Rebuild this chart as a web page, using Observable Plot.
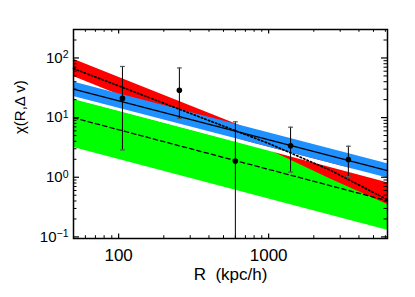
<!DOCTYPE html>
<html><head><meta charset="utf-8">
<script src="https://cdn.jsdelivr.net/npm/d3@7"></script>
<script src="https://cdn.jsdelivr.net/npm/@observablehq/plot@0.6"></script>
<style>body{margin:0;background:#fff;} svg{display:block}</style>
</head><body><div id="chart"></div>
<script>
// ---- data ----
const bandX = [50, 6200];
const greenLo = [3.16, 0.129];
const greenHi = [20.1, 0.853];
const dashedY = [9.93, 0.403];
const blueLo = [22.5, 0.97];
const blueHi = [39.4, 1.69];
const whiteLo = [20.5, 0.805];
const solidY = [30.1, 1.29];
const redX = [50, 120, 1000, 2600, 6200];
const redHi = [95.4, 39.7, 4.75, 1.90, 0.80];
const redLo = [48.7, 20.1, 2.9, 0.93, 0.35];
const dottedX = [50, 1000, 2600, 6200];
const dottedY = [66.3, 3.69, 1.30, 0.419];
const pointR = [106, 254, 600, 1400, 3400];
const pointChi = [21, 28.7, 1.87, 3.37, 1.99];
const errLo = [2.87, 9.7, 0.05, 1.22, 1.03];
const errHi = [72, 68, 8.5, 6.9, 3.31];
const xTickLabels = [100, 1000];
const yTickLabels = [0.1, 1, 10, 100];
const xTitle = "R  (kpc/h)";
const yTitle = "χ(R,Δ v)";

// ---- layout ----
const W = 415, H = 297, mL = 73, mR = 28, mT = 29, mB = 59;
const pw = W - mL - mR, ph = H - mT - mB;
const xDomain = [50, 6200], yDomain = [0.094, 300];

const band = (xs, lo, hi) => xs.map((x, i) => ({x, lo: lo[i], hi: hi[i]}));
const line = (xs, ys) => xs.map((x, i) => ({x, y: ys[i]}));
const green = band(bandX, greenLo, greenHi);
const blue = band(bandX, blueLo, blueHi);
const white = band(bandX, whiteLo, blueLo);
const red = band(redX, redLo, redHi);
const points = pointR.map((r, i) => ({r, chi: pointChi[i], lo: errLo[i], hi: errHi[i]}));

const inDom = (v, d) => v >= d[0] * 0.999 && v <= d[1] * 1.001;
const minor = (dom, majors) => {
  const out = [];
  for (let e = -2; e <= 4; e++) for (let m = 1; m <= 9; m++) {
    const v = +(m * Math.pow(10, e)).toPrecision(6);
    if (inDom(v, dom) && !majors.includes(v)) out.push(v);
  }
  return out;
};
const xMinor = minor(xDomain, xTickLabels);
const yMinor = minor(yDomain, yTickLabels);

const capSymbol = {draw(ctx) { ctx.moveTo(-2.4, 0); ctx.lineTo(2.4, 0); }};

const chart = Plot.plot({
  width: W, height: H,
  marginLeft: mL, marginRight: mR, marginTop: mT, marginBottom: mB,
  x: {type: "log", domain: xDomain},
  y: {type: "log", domain: yDomain},
  style: {fontFamily: "'Liberation Sans', Arial, sans-serif", background: "white", color: "black"},
  marks: [
    Plot.areaY(green, {x: "x", y1: "lo", y2: "hi", fill: "#00ff00"}),
    Plot.areaY(red, {x: "x", y1: "lo", y2: "hi", fill: "#ff0000"}),
    Plot.areaY(white, {x: "x", y1: "lo", y2: "hi", fill: "white"}),
    Plot.areaY(blue, {x: "x", y1: "lo", y2: "hi", fill: "#1e90ff"}),
    Plot.line(line(bandX, dashedY), {x: "x", y: "y", stroke: "black", strokeWidth: 1.3, strokeDasharray: "4.5,3"}),
    Plot.line(line(dottedX, dottedY), {x: "x", y: "y", stroke: "black", strokeWidth: 1.7, strokeDasharray: "1.5,2.3"}),
    Plot.line(line(bandX, solidY), {x: "x", y: "y", stroke: "black", strokeWidth: 1.4}),
    Plot.ruleX(points, {x: "r", y1: "lo", y2: "hi", stroke: "black", strokeWidth: 1, clip: true}),
    Plot.dot(points, {x: "r", y: "hi", symbol: capSymbol, fill: "none", stroke: "#555", strokeWidth: 1.2, clip: true}),
    Plot.dot(points, {x: "r", y: "lo", symbol: capSymbol, fill: "none", stroke: "#555", strokeWidth: 1.2, clip: true}),
    Plot.dot(points, {x: "r", y: "chi", r: 2.8, fill: "black"}),
    Plot.frame({stroke: "black", strokeWidth: 1.5}),
    // inward ticks
    Plot.tickY(yTickLabels, {y: d => d, insetRight: pw - 6, stroke: "black", strokeWidth: 1.2}),
    Plot.tickY(yTickLabels, {y: d => d, insetLeft: pw - 6, stroke: "black", strokeWidth: 1.2}),
    Plot.tickY(yMinor, {y: d => d, insetRight: pw - 3.5, stroke: "black", strokeWidth: 1}),
    Plot.tickY(yMinor, {y: d => d, insetLeft: pw - 3.5, stroke: "black", strokeWidth: 1}),
    Plot.tickX(xTickLabels, {x: d => d, insetTop: ph - 4.5, stroke: "black", strokeWidth: 1.2}),
    Plot.tickX(xTickLabels, {x: d => d, insetBottom: ph - 4.5, stroke: "black", strokeWidth: 1.2}),
    Plot.tickX(xMinor, {x: d => d, insetTop: ph - 2.8, stroke: "black", strokeWidth: 1}),
    Plot.tickX(xMinor, {x: d => d, insetBottom: ph - 2.8, stroke: "black", strokeWidth: 1}),
    Plot.axisX({ticks: xTickLabels, tickSize: 0, tickPadding: 10, fontSize: 17, tickFormat: d => String(d), label: null}),
    Plot.axisY({ticks: yTickLabels, tickSize: 0, tickPadding: 5, fontSize: 15,
      tickFormat: d => "10^" + Math.round(Math.log10(d)), label: null}),
    Plot.text([xTitle], {frameAnchor: "bottom", lineAnchor: "bottom", dy: 41, fontSize: 17, fill: "black"}),
    Plot.text([yTitle], {frameAnchor: "left", lineAnchor: "bottom", rotate: -90, dx: -48.5, fontSize: 15, fill: "black"})
  ]
});

// superscript exponents on y tick labels
chart.querySelectorAll('g[aria-label="y-axis tick label"] text').forEach(t => {
  const s = t.textContent;
  if (s.startsWith("10^")) {
    const e = s.slice(3).replace("-", "−");
    t.textContent = "10";
    const ts = document.createElementNS("http://www.w3.org/2000/svg", "tspan");
    ts.setAttribute("dy", "-0.42em");
    ts.setAttribute("font-size", "10.5");
    ts.textContent = e;
    t.appendChild(ts);
  }
});
document.getElementById("chart").appendChild(chart);
</script>
</body></html>
